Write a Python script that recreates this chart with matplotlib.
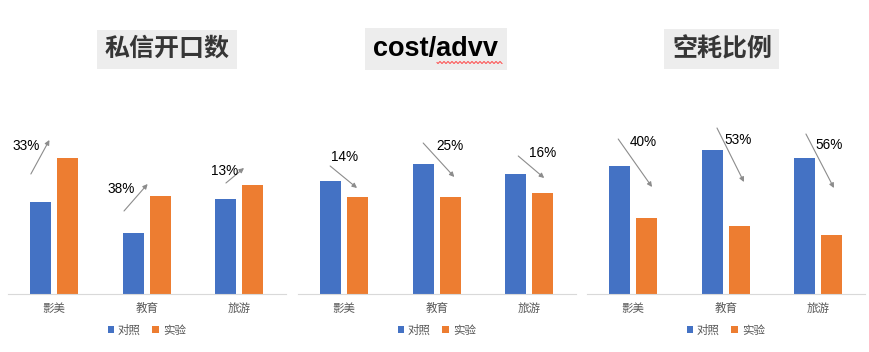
import numpy as np
import matplotlib
matplotlib.use("Agg")
import matplotlib.pyplot as plt
from matplotlib.lines import Line2D

plt.rcParams['font.family'] = ['Noto Sans CJK SC', 'DejaVu Sans']

categories = ["影美", "教育", "旅游"]
series_names = ["对照", "实验"]

# bar heights (arbitrary units)
dm_control = [92, 61, 95]
dm_test = [136, 98, 109]
cost_control = [113, 130, 120]
cost_test = [97, 97, 101]
idle_control = [128, 144, 136]
idle_test = [76, 68, 59]

dm_pct = ["33%", "38%", "13%"]
cost_pct = ["14%", "25%", "16%"]
idle_pct = ["40%", "53%", "56%"]

titles = ["私信开口数", "cost/advv", "空耗比例"]

# arrow start, arrow end, label position (x in category units, y in data units)
dm_arrows = [((-0.25, 120), (-0.05, 154), (-0.30, 148)),
             ((0.755, 83), (1.01, 110), (0.72, 105)),
             ((1.855, 111), (2.05, 126), (1.845, 123))]
cost_arrows = [((-0.15, 128), (0.14, 106), (0.01, 137)),
               ((0.854, 151), (1.19, 117), (1.146, 148)),
               ((1.88, 138), (2.16, 116), (2.14, 141))]
idle_arrows = [((-0.16, 155), (0.205, 107), (0.108, 152)),
               ((0.906, 166), (1.197, 112), (1.133, 154)),
               ((1.866, 160), (2.168, 106), (2.114, 149))]

BLUE = "#4472C4"
ORANGE = "#ED7D31"

W, H = 870, 352
fig = plt.figure(figsize=(8.7, 3.52), dpi=100)

panels = [
    (dm_control, dm_test, dm_pct, dm_arrows, 7.7, 167, "#363636", "Noto Sans CJK SC", 18),
    (cost_control, cost_test, cost_pct, cost_arrows, 297.7, 436, "black", "Liberation Sans", 19.5),
    (idle_control, idle_test, idle_pct, idle_arrows, 586.7, 722, "#363636", "Noto Sans CJK SC", 18),
]

ax_w = 278
ax_bottom = 294
ax_top = 100
bw = 0.227
off = 0.146

for i, (ctrl, test, pct, arrows, x0, tx, tcol, tfont, tsize) in enumerate(panels):
    ax = fig.add_axes([x0 / W, (H - ax_bottom) / H, ax_w / W, (ax_bottom - ax_top) / H])
    x = np.arange(len(categories))
    ax.bar(x - off, ctrl, bw, color=BLUE, label=series_names[0])
    ax.bar(x + off, test, bw, color=ORANGE, label=series_names[1])
    ax.set_xlim(-0.5, 2.5)
    ax.set_ylim(0, ax_bottom - ax_top)
    ax.set_xticks(x)
    ax.set_xticklabels(categories, fontsize=8.3, color="#595959")
    ax.tick_params(axis='x', length=0, pad=6)
    ax.set_yticks([])
    for s in ["top", "left", "right"]:
        ax.spines[s].set_visible(False)
    ax.spines["bottom"].set_color("#D9D9D9")

    for (p0, p1, lp), lab in zip(arrows, pct):
        ax.annotate("", xy=p1, xytext=p0,
                    arrowprops=dict(arrowstyle="-|>", color="#8C8C8C", lw=0.8,
                                    mutation_scale=7, shrinkA=0, shrinkB=0),
                    annotation_clip=False)
        ax.text(lp[0], lp[1], lab, fontsize=9.8, ha="center", va="center",
                color="black", family=["Liberation Sans", "DejaVu Sans"])

    leg = ax.legend(loc="center", bbox_to_anchor=(0.5, (ax_bottom - 330) / (ax_bottom - ax_top)),
                    ncol=2, frameon=False, fontsize=8.3, handlelength=0.6, handleheight=0.6,
                    handletextpad=0.3, columnspacing=1.0, borderaxespad=0)
    for t in leg.get_texts():
        t.set_color("#595959")

    fig.text(tx / W, (H - 49) / H, titles[i], fontsize=tsize, fontweight="bold",
             ha="center", va="center", color=tcol, family=[tfont, "DejaVu Sans"],
             bbox=dict(boxstyle="square,pad=0.3", facecolor="#EDEDED", edgecolor="none"))

# spell-check squiggle under "advv"
sx = np.linspace(437, 502, 131)
sy = 62.5 + 0.9 * np.sin((sx - 437) * np.pi / 2)
fig.add_artist(Line2D(sx / W, (H - sy) / H, color="#FF4040", lw=0.7, zorder=10))

fig.savefig("out.png", dpi=100)
